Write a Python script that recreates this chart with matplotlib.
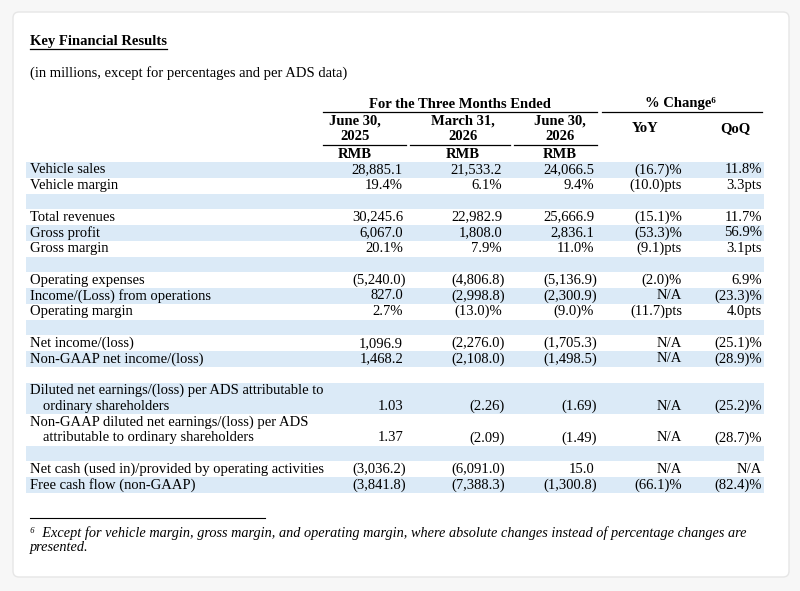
import matplotlib.pyplot as plt
from matplotlib.patches import Rectangle, FancyBboxPatch

plt.rcParams['font.family'] = ['Liberation Serif', 'DejaVu Serif']

# rows: label lines, col values (3 periods), yoy, qoq ; None = blank spacer row
rows = [
    (["Vehicle sales"], ["28,885.1", "21,533.2", "24,066.5"], "(16.7)%", "11.8%"),
    (["Vehicle margin"], ["19.4%", "6.1%", "9.4%"], "(10.0)pts", "3.3pts"),
    None,
    (["Total revenues"], ["30,245.6", "22,982.9", "25,666.9"], "(15.1)%", "11.7%"),
    (["Gross profit"], ["6,067.0", "1,808.0", "2,836.1"], "(53.3)%", "56.9%"),
    (["Gross margin"], ["20.1%", "7.9%", "11.0%"], "(9.1)pts", "3.1pts"),
    None,
    (["Operating expenses"], ["(5,240.0)", "(4,806.8)", "(5,136.9)"], "(2.0)%", "6.9%"),
    (["Income/(Loss) from operations"], ["827.0", "(2,998.8)", "(2,300.9)"], "N/A", "(23.3)%"),
    (["Operating margin"], ["2.7%", "(13.0)%", "(9.0)%"], "(11.7)pts", "4.0pts"),
    None,
    (["Net income/(loss)"], ["1,096.9", "(2,276.0)", "(1,705.3)"], "N/A", "(25.1)%"),
    (["Non-GAAP net income/(loss)"], ["1,468.2", "(2,108.0)", "(1,498.5)"], "N/A", "(28.9)%"),
    None,
    (["Diluted net earnings/(loss) per ADS attributable to", "ordinary shareholders"],
     ["1.03", "(2.26)", "(1.69)"], "N/A", "(25.2)%"),
    (["Non-GAAP diluted net earnings/(loss) per ADS", "attributable to ordinary shareholders"],
     ["1.37", "(2.09)", "(1.49)"], "N/A", "(28.7)%"),
    None,
    (["Net cash (used in)/provided by operating activities"], ["(3,036.2)", "(6,091.0)", "15.0"], "N/A", "N/A"),
    (["Free cash flow (non-GAAP)"], ["(3,841.8)", "(7,388.3)", "(1,300.8)"], "(66.1)%", "(82.4)%"),
]
periods = [("June 30,", "2025"), ("March 31,", "2026"), ("June 30,", "2026")]

fig = plt.figure(figsize=(8, 5.91), dpi=100)
ax = fig.add_axes([0, 0, 1, 1])
ax.set_xlim(0, 800)
ax.set_ylim(591, 0)
ax.axis('off')

ax.add_patch(FancyBboxPatch((13, 12), 776, 565, boxstyle="round,pad=0,rounding_size=6",
                            fc='white', ec='#e6e6e6', lw=1))

fs = 10.5
blue = '#dbeaf7'
ax.text(30, 42, "Key Financial Results", fontsize=fs, fontweight='bold', va='center')
ax.plot([30, 167], [49, 49], color='black', lw=0.9)
ax.text(30, 73, "(in millions, except for percentages and per ADS data)", fontsize=fs, va='center')

ax.text(460, 104, "For the Three Months Ended", fontsize=fs, fontweight='bold', ha='center', va='center')
ax.plot([323, 597], [112, 112], color='black', lw=0.9)
ax.text(680, 104, "% Change\u2076", fontsize=fs, fontweight='bold', ha='center', va='center')
ax.plot([602, 762], [112, 112], color='black', lw=0.9)

centers = [355, 463, 560]
rights = [406, 505, 597]
spans = [(323, 406), (410, 510), (514, 597)]
for (a, b), c, (x0, x1) in zip(periods, centers, spans):
    ax.text(c, 121, a, fontsize=fs, fontweight='bold', ha='center', va='center')
    ax.text(c, 137, b, fontsize=fs, fontweight='bold', ha='center', va='center')
    ax.plot([x0, x1], [145, 145], color='black', lw=0.9)
    ax.text(c, 154, "RMB", fontsize=fs, fontweight='bold', ha='center', va='center')
ax.text(645, 129, "YoY", fontsize=fs, fontweight='bold', ha='center', va='center')
ax.text(735, 129, "QoQ", fontsize=fs, fontweight='bold', ha='center', va='center')


def put(v, xr, yl):
    ax.text(xr if v.endswith(')') else xr - 3, yl, v, fontsize=fs, ha='right', va='center')


pitch = 15.76
y = 162.0
shade = True
for r in rows:
    n = 1 if r is None else len(r[0])
    h = n * pitch
    if shade:
        ax.add_patch(Rectangle((26, y), 738, h, fc=blue, ec='none'))
    if r is not None:
        labels, vals, yoy, qoq = r
        for i, lab in enumerate(labels):
            ax.text(30 + (13 if i else 0), y + pitch * (i + 0.5), lab, fontsize=fs, va='center')
        yl = y + pitch * (n - 0.5)
        for v, xr in zip(vals, rights):
            put(v, xr, yl)
        put(yoy, 685, yl)
        put(qoq, 765, yl)
    y += h
    shade = not shade

ax.plot([30, 265], [518, 518], color='black', lw=0.8)
ax.text(30, 533, "\u2076  Except for vehicle margin, gross margin, and operating margin, where absolute changes instead of percentage changes are",
        fontsize=10.3, style='italic', va='center')
ax.text(30, 548, "presented.", fontsize=10.3, style='italic', va='center')

fig.savefig('out.png', dpi=100, facecolor='#f7f7f7')
